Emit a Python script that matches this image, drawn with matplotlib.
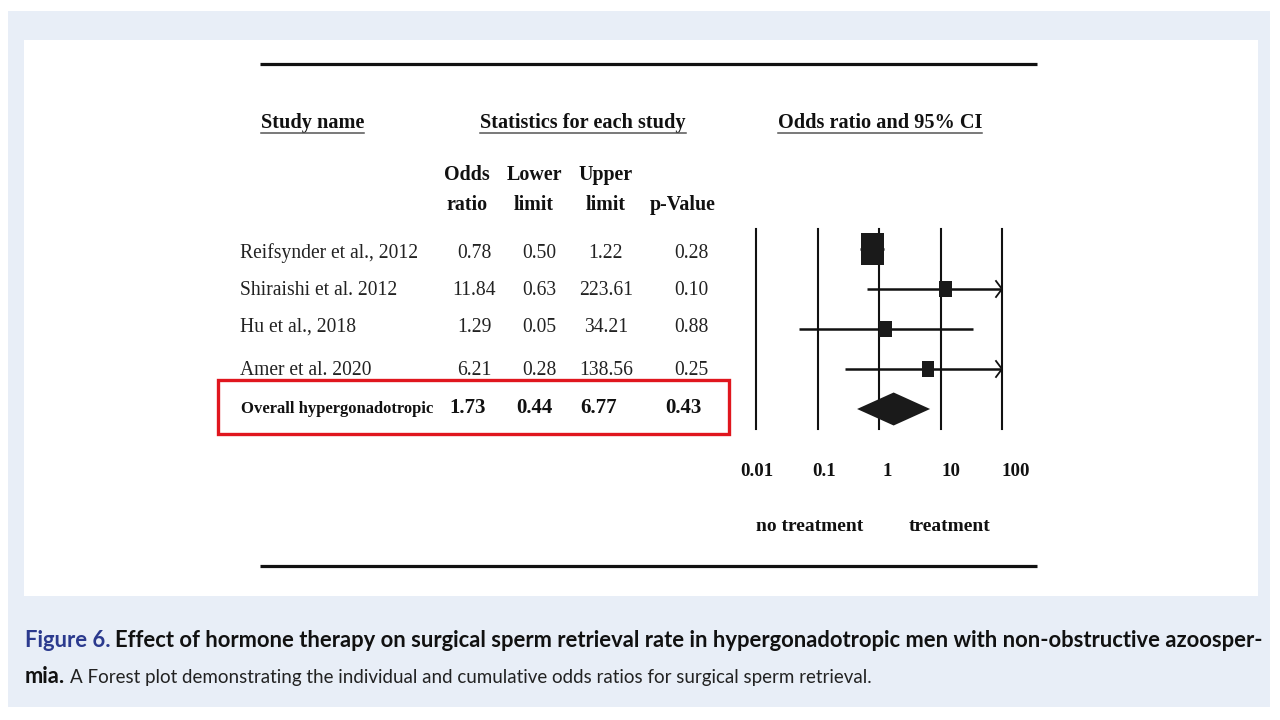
import numpy as np
import matplotlib
matplotlib.use("Agg")
import matplotlib.pyplot as plt
from matplotlib.patches import Rectangle, Polygon

# ---------------- data ----------------
studies = ["Reifsynder et al., 2012", "Shiraishi et al. 2012", "Hu et al., 2018", "Amer et al. 2020"]
odds_ratio = [0.78, 11.84, 1.29, 6.21]
lower_limit = [0.50, 0.63, 0.05, 0.28]
upper_limit = [1.22, 223.61, 34.21, 138.56]
p_values = [0.28, 0.10, 0.88, 0.25]
overall_label = "Overall hypergonadotropic"
overall_or = 1.73
overall_lower = 0.44
overall_upper = 6.77
overall_p = 0.43
tick_values = [0.01, 0.1, 1, 10, 100]
tick_labels = ["0.01", "0.1", "1", "10", "100"]
left_label = "no treatment"
right_label = "treatment"
caption_fig = "Figure 6."
caption_bold = ("Effect of hormone therapy on surgical sperm retrieval rate in "
                "hypergonadotropic men with non-obstructive azoosper-")
caption_bold2 = "mia."
caption_rest = ("A Forest plot demonstrating the individual and cumulative odds "
                "ratios for surgical sperm retrieval.")

# ---------------- style / layout ----------------
W, H = 1280, 720
BG_BLUE = "#e8eef7"
CAP_BLUE = "#2b3a8e"
RED = "#e0161e"
SERIF = ["Liberation Serif", "DejaVu Serif"]
SANS = ["Lato", "DejaVu Sans"]
box_px = [(23, 32), (13, 16), (13, 16), (12, 16)]   # weight boxes (w, h) in px
row_baselines = [258, 295, 332, 375]
overall_baseline = 413
col_x = [474, 539, 606, 691]
overall_col_x = [468, 534, 599, 683]
hdr_x = [467, 534, 606, 683]
tick_offsets = [1, 7, 8, 11, 14]

fig = plt.figure(figsize=(W / 100, H / 100), dpi=100)
fig.patch.set_facecolor("white")
ax = fig.add_axes([0, 0, 1, 1])
ax.set_xlim(0, W)
ax.set_ylim(H, 0)
ax.axis("off")

# panels
ax.add_patch(Rectangle((8, 11), 1262, 696, facecolor=BG_BLUE, edgecolor="none", zorder=0))
ax.add_patch(Rectangle((24, 40), 1234, 556, facecolor="white", edgecolor="none", zorder=1))

# rules
ax.plot([260, 1037], [64, 64], color="#111111", lw=2.3, solid_capstyle="butt", zorder=2)
ax.plot([260, 1037], [566, 566], color="#111111", lw=2.3, solid_capstyle="butt", zorder=2)

renderer = fig.canvas.get_renderer()


def underlined(x, y, s, size):
    t = ax.text(x, y, s, family=SERIF, fontweight="bold", fontsize=size,
                ha="left", va="baseline", color="#111111", zorder=3)
    bb = t.get_window_extent(renderer)
    ax.plot([x, x + bb.width], [y + 5, y + 5], color="#555555", lw=1.1, zorder=3)


underlined(261, 128, "Study name", 14.6)
underlined(480, 128, "Statistics for each study", 14.6)
underlined(778, 128, "Odds ratio and 95% CI", 14.6)

hdr_top = ["Odds", "Lower", "Upper", ""]
hdr_bot = ["ratio", "limit", "limit", "p-Value"]
for x, a, b in zip(hdr_x, hdr_top, hdr_bot):
    if a:
        ax.text(x, 180, a, family=SERIF, fontweight="bold", fontsize=14.4,
                ha="center", va="baseline", color="#111111", zorder=3)
    ax.text(x, 210, b, family=SERIF, fontweight="bold", fontsize=14.4,
            ha="center", va="baseline", color="#111111", zorder=3)

for i, name in enumerate(studies):
    yb = row_baselines[i]
    ax.text(240, yb, name, family=SERIF, fontsize=14.1, ha="left", va="baseline",
            color="#222222", zorder=3)
    vals = [odds_ratio[i], lower_limit[i], upper_limit[i], p_values[i]]
    for x, v in zip(col_x, vals):
        ax.text(x, yb, f"{v:.2f}", family=SERIF, fontsize=14.1, ha="center",
                va="baseline", color="#222222", zorder=3)

ax.text(241, overall_baseline, overall_label, family=SERIF, fontweight="bold",
        fontsize=12, ha="left", va="baseline", color="#111111", zorder=3)
for x, v in zip(overall_col_x, [overall_or, overall_lower, overall_upper, overall_p]):
    ax.text(x, overall_baseline, f"{v:.2f}", family=SERIF, fontweight="bold",
            fontsize=15, ha="center", va="baseline", color="#111111", zorder=3)

ax.add_patch(Rectangle((218, 380), 511, 54, facecolor="none", edgecolor=RED,
                       lw=2.4, zorder=4))

# ---------------- forest plot ----------------
fx0, fx1 = 756, 1002
fy_top, fy_bot = 229, 429
axf = fig.add_axes([fx0 / W, (H - fy_bot) / H, (fx1 - fx0) / W, (fy_bot - fy_top) / H])
axf.patch.set_alpha(0)
axf.set_xscale("log")
axf.set_xlim(tick_values[0], tick_values[-1])
n_rows = len(studies) + 1
axf.set_ylim(n_rows - 0.5, -0.5)
axf.axis("off")

decade_px = (fx1 - fx0) / np.log10(tick_values[-1] / tick_values[0])
row_px = (fy_bot - fy_top) / n_rows

for t in tick_values:
    axf.axvline(t, color="#111111", lw=1.5, clip_on=False, zorder=1)

xmax = tick_values[-1]
for i in range(len(studies)):
    hi = min(upper_limit[i], xmax)
    axf.plot([lower_limit[i], hi], [i, i], color="#111111", lw=1.8,
             solid_capstyle="butt", clip_on=False, zorder=2)
    if upper_limit[i] > xmax:
        back = xmax * 10 ** (-6 / decade_px)
        dy = 8 / row_px
        axf.plot([back, xmax, back], [i - dy, i, i + dy], color="#111111", lw=1.3,
                 clip_on=False, zorder=2)
    bw, bh = box_px[i]
    hw = bw / 2 / decade_px
    x0 = odds_ratio[i] * 10 ** (-hw)
    x1 = odds_ratio[i] * 10 ** (hw)
    axf.add_patch(Rectangle((x0, i - bh / 2 / row_px), x1 - x0, bh / row_px,
                            facecolor="#1a1a1a", edgecolor="none", zorder=3))

yo = len(studies)
dh = 16.5 / row_px
axf.add_patch(Polygon([(overall_lower, yo), (overall_or, yo - dh),
                       (overall_upper, yo), (overall_or, yo + dh)],
                      closed=True, facecolor="#1a1a1a", edgecolor="none", zorder=3))

# tick labels
for t, lab, off in zip(tick_values, tick_labels, tick_offsets):
    px = axf.transData.transform((t, 0))[0]
    ax.text(px + off, 476, lab, family=SERIF, fontweight="bold", fontsize=13.6,
            ha="center", va="baseline", color="#111111", zorder=3)
ax.text(810, 531, left_label, family=SERIF, fontweight="bold", fontsize=14,
        ha="center", va="baseline", color="#111111", zorder=3)
ax.text(950, 531, right_label, family=SERIF, fontweight="bold", fontsize=14,
        ha="center", va="baseline", color="#111111", zorder=3)

# ---------------- caption ----------------
cap_x0, cap_x1 = 25, 1262
rest_x1 = 875
probe = ax.text(0, 0, caption_fig + " " + caption_bold, family=SANS, fontweight="bold",
                fontsize=20)
pw = probe.get_window_extent(renderer).width
probe.remove()
fs = 20 * (cap_x1 - cap_x0) / pw
sp = fs * 100 / 72 * 0.22

t1 = ax.text(cap_x0, 647, caption_fig, family=SANS, fontweight="bold", fontsize=fs,
             color=CAP_BLUE, ha="left", va="baseline", zorder=3)
w1 = t1.get_window_extent(renderer).width
ax.text(cap_x0 + w1 + sp, 647, caption_bold, family=SANS, fontweight="bold", fontsize=fs,
        color="#111111", ha="left", va="baseline", zorder=3)
t3 = ax.text(cap_x0, 683, caption_bold2, family=SANS, fontweight="bold", fontsize=fs,
             color="#111111", ha="left", va="baseline", zorder=3)
w3 = t3.get_window_extent(renderer).width
rx = cap_x0 + w3 + sp
probe = ax.text(0, 0, caption_rest, family=SANS, fontsize=20)
rw = probe.get_window_extent(renderer).width
probe.remove()
fs_rest = 20 * (rest_x1 - rx) / rw
ax.text(rx, 683, caption_rest, family=SANS, fontsize=fs_rest,
        color="#222222", ha="left", va="baseline", zorder=3)

fig.savefig("out.png", dpi=100)
